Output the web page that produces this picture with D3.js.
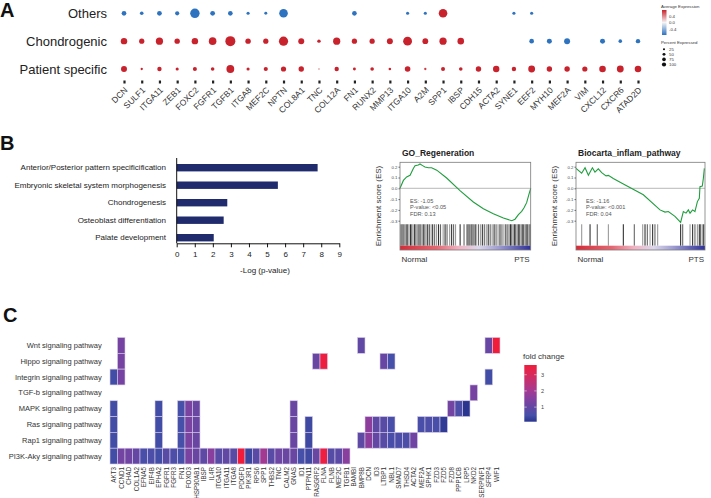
<!DOCTYPE html>
<html><head><meta charset="utf-8">
<script src="https://cdn.jsdelivr.net/npm/d3@7"></script>
<style>body{margin:0;background:#fff} svg{display:block;font-family:"Liberation Sans",Arial,sans-serif}</style>
</head><body><svg id="c" width="711" height="498"></svg>
<script>
// ---------- Panel A data ----------
const genesA = ["DCN","SULF1","ITGA11","ZEB1","FOXC2","FGFR1","TGFB1","ITGA8","MEF2C","NPTN","COL8A1","TNC","COL12A","FN1","RUNX2","MMP13","ITGA10","A2M","SPP1","IBSP","CDH15","ACTA2","SYNE1","EEF2","MYH10","MEF2A","VIM","CXCL12","CXCR6","ATAD2D"];
const groupsA = ["Others","Chondrogenic","Patient specific"];
const pctOthers = [20,12,21,16,82,21,20,9,8,68,null,null,null,20,null,null,9,9,68,null,null,null,9,9,null,null,null,null,null,null];
const avgOthers = [-0.5,-0.5,-0.5,-0.5,-0.5,-0.5,-0.5,-0.5,-0.5,-0.5,null,null,null,-0.5,null,null,-0.5,-0.5,0.5,null,null,null,-0.5,-0.5,null,null,null,null,null,null];
const pctChondro = [38,25,48,27,38,53,92,27,25,78,33,11,48,25,25,33,72,31,48,40,null,null,null,20,23,33,null,23,12,18];
const avgChondro = [0.5,0.5,0.5,0.5,0.5,0.5,0.5,0.5,0.5,0.5,0.5,0.45,0.5,0.5,0.5,0.5,0.5,0.5,0.5,0.5,null,null,null,-0.5,-0.5,-0.5,null,-0.5,-0.5,-0.5];
const pctPatient = [33,5,18,9,15,12,56,9,16,25,27,4,18,8,12,6,29,5,15,12,27,38,18,43,27,27,25,40,43,40];
const avgPatient = [0.5,0.4,0.5,0.5,0.5,0.5,0.5,0.5,0.5,0.5,0.5,0.12,0.5,0.5,0.5,0.4,0.5,0.35,0.5,0.5,0.5,0.5,0.5,0.5,0.5,0.5,0.5,0.5,0.5,0.5];
const legendPct = [25,50,75,100];
const legendAvg = ["0.4","0.0","-0.4"];

// ---------- Panel B data ----------
const termsB = ["Anterior/Posterior pattern specificification","Embryonic skeletal system morphogenesis","Chondrogenesis","Osteoblast differentiation","Palate development"];
const valsB = [7.8,5.6,2.8,2.6,2.05];
const ticksB = [0,1,2,3,4,5,6,7,8,9];

// ---------- GSEA data ----------
const goCurve = [[0,0],[0.026,0.073],[0.051,0.105],[0.077,0.12],[0.102,0.184],[0.115,0.21],[0.14,0.216],[0.153,0.225],[0.173,0.21],[0.191,0.197],[0.217,0.19],[0.242,0.19],[0.281,0.168],[0.357,0.095],[0.459,-0.022],[0.561,-0.127],[0.638,-0.19],[0.714,-0.235],[0.791,-0.276],[0.855,-0.30],[0.88,-0.286],[0.906,-0.244],[0.931,-0.213],[0.949,-0.18],[0.969,-0.133],[0.987,-0.054],[1,0]];
const goHits = [0.004,0.015,0.025,0.035,0.047,0.058,0.068,0.08,0.09,0.1,0.112,0.122,0.133,0.145,0.155,0.167,0.178,0.19,0.2,0.212,0.225,0.238,0.25,0.265,0.28,0.295,0.31,0.33,0.345,0.36,0.38,0.395,0.41,0.425,0.46,0.49,0.51,0.52,0.53,0.54,0.55,0.56,0.57,0.58,0.6,0.615,0.63,0.645,0.66,0.675,0.69,0.705,0.72,0.735,0.75,0.765,0.78,0.795,0.81,0.825,0.835,0.845,0.855,0.865,0.875,0.885,0.895,0.905,0.915,0.925,0.935,0.945,0.955,0.965,0.975,0.985,0.995];
const bioCurve = [[0,0.185],[0.044,0.14],[0.07,0.19],[0.096,0.12],[0.127,0.19],[0.147,0.15],[0.173,0.18],[0.199,0.145],[0.233,0.115],[0.251,0.12],[0.289,0.09],[0.367,0.04],[0.522,-0.06],[0.651,-0.2],[0.69,-0.22],[0.716,-0.215],[0.767,-0.26],[0.811,-0.315],[0.832,-0.215],[0.853,-0.23],[0.871,-0.2],[0.884,-0.23],[0.904,-0.2],[0.922,-0.215],[0.941,-0.123],[0.956,-0.092],[0.961,0.015],[0.979,0.02],[0.987,0.09],[0.995,0.185]];
const bioHits = [0.044,0.109,0.165,0.251,0.367,0.452,0.517,0.535,0.553,0.574,0.594,0.612,0.633,0.811,0.827,0.884,0.904,0.922,0.941,0.956,0.966,0.979,0.99];
const esTicks = [0.2,0.1,0.0,-0.1,-0.2,-0.3];

// ---------- Panel C data ----------
const pathways = ["Wnt signaling pathway","Hippo signaling pathway","Integrin signaling pathway","TGF-b signaling pathway","MAPK signaling pathway","Ras signaling pathway","Rap1 signaling pathway","PI3K-Aky signaling pathway"];
const genesC = ["AKT3","CCND1","CHAD","COL1A2","EFNA5","EIF4B","EPHA2","FGFR1","FGFR3","FN1","FOXO3","HSP90AB1","IBSP","IL4R","ITGA10","ITGA11","ITGA8","PDGFD","PIK3R1","RPS6","SPP1","THBS2","TNC","CALM2","GNAS","ID1","PTPN11","RASGRF2","FLNA","FLNB","MEF2C","TGFB1","BAMBI","BMP8B","DCN","ID3","LTBP1","NBL1","SMAD7","THSD4","ACTA2","MEF2A","SPHK1","FZD3","FZD5","FZD8","PPP1CB","LRP5","NKD2","SERPINF1","SFRP4","WIF1"];
const fcWnt = [["CCND1",1.3],["BMP8B",0.95],["SFRP4",1.05],["WIF1",3.6]];
const fcHippo = [["CCND1",1.3],["RASGRF2",1.1],["FLNA",3.5],["LTBP1",1.05],["NBL1",0.5]];
const fcIntegrin = [["AKT3",0.45],["CCND1",1.3],["SFRP4",0.45]];
const fcTGFb = [["NKD2",1.3]];
const fcMAPK = [["AKT3",0.45],["EPHA2",0.45],["FN1",0.5],["FOXO3",1.35],["HSP90AB1",1.1],["GNAS",1.1],["FZD8",1.25],["PPP1CB",0.6],["LRP5",0.12]];
const fcRas = [["AKT3",0.45],["EPHA2",0.45],["FN1",0.5],["FOXO3",1.35],["HSP90AB1",1.1],["GNAS",1.1],["PTPN11",0.4],["DCN",1.65],["ID3",0.9],["LTBP1",0.8],["NBL1",0.55],["MEF2A",0.55],["SPHK1",0.6],["FZD3",0.55],["FZD5",0.2]];
const fcRap1 = [["AKT3",0.45],["EPHA2",0.45],["FN1",0.5],["FOXO3",1.35],["HSP90AB1",1.1],["GNAS",1.1],["PTPN11",0.4],["BMP8B",0.9],["DCN",1.65],["ID3",1.0],["LTBP1",0.8],["NBL1",0.55],["SMAD7",0.6],["THSD4",0.6],["ACTA2",1.2]];
const fcPI3K = [["AKT3",0.45],["CCND1",1.25],["CHAD",1.2],["COL1A2",1.0],["EFNA5",0.55],["EIF4B",0.6],["EPHA2",0.45],["FGFR1",0.8],["FGFR3",0.6],["FN1",0.5],["FOXO3",1.35],["HSP90AB1",1.1],["IBSP",0.9],["IL4R",1.6],["ITGA10",0.8],["ITGA11",0.95],["ITGA8",0.8],["PDGFD",3.6],["PIK3R1",0.35],["RPS6",0.85],["SPP1",2.0],["THBS2",0.8],["TNC",1.15],["CALM2",1.1],["GNAS",1.1],["ID1",0.5],["PTPN11",0.4],["RASGRF2",1.1],["FLNA",3.5],["FLNB",0.75],["MEF2C",0.85],["TGFB1",1.6]];
const fcRows = [fcWnt,fcHippo,fcIntegrin,fcTGFb,fcMAPK,fcRas,fcRap1,fcPI3K];
const fcLegendTicks = [1,2,3];

// ================= drawing =================
const svg = d3.select("#c");
const defs = svg.append("defs");
const FONT = "'Liberation Sans',Arial,sans-serif";

// panel letters
[["A",0,17],["B",0,150],["C",3,322]].forEach(([t,x,y])=>svg.append("text").attr("x",x).attr("y",y).attr("font-size",20).attr("font-weight","bold").attr("fill","#111").text(t));

// ---------- Panel A ----------
const xA = d3.scalePoint().domain(genesA).range([124,638]);
const yA = d3.scalePoint().domain(groupsA).range([13.3,69]);
const rA = d3.scaleSqrt().domain([0,100]).range([0,5.2]);
const cA = d3.scaleLinear().domain([-0.4,0,0.4]).range(["#2e73bf","#f5f5f5","#c8222d"]).clamp(true);
const rowsA = [[groupsA[0],pctOthers,avgOthers],[groupsA[1],pctChondro,avgChondro],[groupsA[2],pctPatient,avgPatient]];
rowsA.forEach(([grp,pct,avg])=>{
  svg.append("g").selectAll("circle")
    .data(genesA.map((g,i)=>({g,p:pct[i],a:avg[i]})).filter(d=>d.p!=null))
    .join("circle").attr("cx",d=>xA(d.g)).attr("cy",yA(grp)).attr("r",d=>rA(d.p)).attr("fill",d=>cA(d.a));
  svg.append("text").attr("x",107).attr("y",yA(grp)).attr("text-anchor","end").attr("dominant-baseline","central")
    .attr("font-size",13).attr("fill","#222").text(grp);
});
const axA = svg.append("g").attr("transform","translate(0,80.5)").call(d3.axisBottom(xA).tickSize(3).tickSizeOuter(0));
axA.select(".domain").remove();
axA.selectAll(".tick line").attr("stroke","#222").attr("stroke-width",2.2);
axA.selectAll(".tick text").attr("y",0).attr("dy","0.35em").attr("text-anchor","end")
  .attr("transform","translate(1.5,8) rotate(-45)").attr("font-size",8.5).attr("fill","#333").attr("font-family",FONT);

// legend A
const gA = svg.append("g").attr("font-size",4.3).attr("fill","#333");
gA.append("text").attr("x",661).attr("y",7.5).text("Average Expression");
const gradA = defs.append("linearGradient").attr("id","gradA").attr("x1",0).attr("x2",0).attr("y1",0).attr("y2",1);
[[0,"#c8222d"],[0.5,"#f5f5f5"],[1,"#2e73bf"]].forEach(([o,c])=>gradA.append("stop").attr("offset",o).attr("stop-color",c));
gA.append("rect").attr("x",662).attr("y",10).attr("width",4.5).attr("height",25).attr("fill","url(#gradA)");
const yLegA = d3.scalePoint().domain(legendAvg).range([16,29.5]);
legendAvg.forEach(v=>gA.append("text").attr("x",669).attr("y",yLegA(v)).attr("dominant-baseline","central").text(v));
gA.append("text").attr("x",661).attr("y",44).text("Percent Expressed");
const yLegP = d3.scalePoint().domain(legendPct).range([49.3,64.5]);
const rLegP = d3.scaleSqrt().domain([0,100]).range([0,2.1]);
legendPct.forEach(v=>{
  gA.append("circle").attr("cx",664).attr("cy",yLegP(v)).attr("r",rLegP(v)).attr("fill","#111");
  gA.append("text").attr("x",669).attr("y",yLegP(v)).attr("dominant-baseline","central").text(v);
});

// ---------- Panel B ----------
const xB = d3.scaleLinear().domain([0,9]).range([176.7,339.3]);
const yB = d3.scalePoint().domain(termsB).range([167.7,237.7]);
svg.append("g").selectAll("rect").data(termsB).join("rect")
  .attr("x",xB(0)).attr("y",d=>yB(d)-3.7).attr("height",7.4)
  .attr("width",(d,i)=>xB(valsB[i])-xB(0)).attr("fill","#1f2b6c");
svg.append("line").attr("x1",xB(0)).attr("x2",xB(0)).attr("y1",158).attr("y2",243.3).attr("stroke","#111").attr("stroke-width",1);
const axB = svg.append("g").attr("transform","translate(0,243.3)")
  .call(d3.axisBottom(xB).tickValues(ticksB).tickFormat(d3.format("d")).tickSize(4).tickSizeOuter(0).tickPadding(4));
axB.select(".domain").attr("stroke","#111");
axB.selectAll(".tick line").attr("stroke","#111");
axB.selectAll("text").attr("font-size",8).attr("fill","#222").attr("font-family",FONT);
svg.append("text").attr("x",265).attr("y",273).attr("text-anchor","middle").attr("font-size",8).attr("fill","#222").text("-Log (p-value)");
termsB.forEach(t=>svg.append("text").attr("x",166).attr("y",yB(t)).attr("text-anchor","end").attr("dominant-baseline","central").attr("font-size",8).attr("fill","#222").text(t));

// ---------- GSEA ----------
const strip = defs.append("linearGradient").attr("id","strip");
[[0,"#d72a36"],[0.28,"#e46771"],[0.45,"#f0b3c2"],[0.6,"#dcd7ea"],[0.76,"#9c9ad0"],[1,"#2d2f9a"]].forEach(([o,c])=>strip.append("stop").attr("offset",o).attr("stop-color",c));
function gsea(x0,x1,title,curve,hits,stats){
  const g = svg.append("g");
  const x = d3.scaleLinear().domain([0,1]).range([x0,x1]);
  const y = d3.scaleLinear().domain([-0.3,0.2]).range([220.7,166.7]);
  const fmt = v=>d3.format(".1f")(v).replace("\u2212","-");
  g.append("text").attr("x",x0+2).attr("y",155.5).attr("font-size",8.5).attr("font-weight","bold").attr("fill","#222").text(title);
  g.append("line").attr("x1",x0).attr("x2",x1).attr("y1",y(0)).attr("y2",y(0)).attr("stroke","#9a9a9a").attr("stroke-width",0.7);
  g.append("g").selectAll("line").data(hits).join("line")
    .attr("x1",d=>x(d)).attr("x2",d=>x(d)).attr("y1",224.3).attr("y2",245.7)
    .attr("stroke",(d,i)=>i%3===0?"#9a9a9a":(i%3===1?"#333":"#666")).attr("stroke-width",1.1);
  g.append("rect").attr("x",x0).attr("y",245.7).attr("width",x1-x0).attr("height",4.3).attr("fill","url(#strip)");
  g.append("path").datum(curve).attr("fill","none").attr("stroke","#1f9e3d").attr("stroke-width",1.1)
    .attr("d",d3.line().x(d=>x(d[0])).y(d=>y(d[1])));
  g.append("rect").attr("x",x0).attr("y",162.3).attr("width",x1-x0).attr("height",250-162.3).attr("fill","none").attr("stroke","#7a7a7a").attr("stroke-width",0.8);
  const ay = g.append("g").attr("transform",`translate(${x0},0)`).call(d3.axisLeft(y).tickValues(esTicks).tickFormat(fmt).tickSize(1.5).tickPadding(1));
  ay.select(".domain").remove();
  ay.selectAll("line").attr("stroke","#666");
  ay.selectAll("text").attr("font-size",4.3).attr("fill","#444").attr("font-family",FONT);
  stats.forEach((s,i)=>g.append("text").attr("x",x0+10).attr("y",[203,208.8,216.3][i]).attr("font-size",5.6).attr("fill","#555").text(s));
  g.append("text").attr("transform",`translate(${x0-19},206) rotate(-90)`).attr("text-anchor","middle").attr("font-size",8).attr("fill","#333").text("Enrichment score (ES)");
  g.append("text").attr("x",x0+1.5).attr("y",262).attr("font-size",8).attr("fill","#333").text("Normal");
  g.append("text").attr("x",x1-1).attr("y",262).attr("text-anchor","end").attr("font-size",8).attr("fill","#333").text("PTS");
}
gsea(400,530.7,"GO_Regeneration",goCurve,goHits,["ES: -1.05","P-value: <0.05","FDR: 0.13"]);
gsea(576,705,"Biocarta_inflam_pathway",bioCurve,bioHits,["ES: -1.16","P-value: <0.001","FDR: 0.04"]);

// ---------- Panel C ----------
const xC = d3.scaleBand().domain(genesC).range([110,500]);
const yC = d3.scaleBand().domain(pathways).range([337.5,464]);
const fcStops = [0.1,0.5,1.0,1.5,2.0,3.0,3.6];
const cC = d3.scaleLinear().domain(fcStops).range(["#28348f","#4650a8","#6447a4","#8340a0","#a33a92","#d62a5c","#f11c3a"]).clamp(true);
const cells = [];
fcRows.forEach((row,i)=>row.forEach(([g,v])=>cells.push({p:pathways[i],g,v})));
svg.append("g").selectAll("rect").data(cells).join("rect")
  .attr("x",d=>xC(d.g)).attr("y",d=>yC(d.p)).attr("width",xC.bandwidth()).attr("height",yC.bandwidth())
  .attr("fill",d=>cC(d.v)).attr("stroke","#d6cce9").attr("stroke-width",0.6);
pathways.forEach(p=>svg.append("text").attr("x",101.7).attr("y",yC(p)+yC.bandwidth()/2).attr("text-anchor","end")
  .attr("dominant-baseline","central").attr("font-size",7.5).attr("fill","#333").text(p));
genesC.forEach(g=>svg.append("text").attr("transform",`translate(${xC(g)+xC.bandwidth()/2},467) rotate(-90)`)
  .attr("text-anchor","end").attr("dominant-baseline","central").attr("font-size",6.3).attr("fill","#333").text(g));
// legend C
svg.append("text").attr("x",523).attr("y",359).attr("font-size",8).attr("fill","#333").text("fold change");
const yLegC = d3.scaleLinear().domain([0.1,3.6]).range([421.7,365]);
const gradC = defs.append("linearGradient").attr("id","gradC").attr("x1",0).attr("x2",0).attr("y1",1).attr("y2",0);
fcStops.forEach(v=>gradC.append("stop").attr("offset",(v-0.1)/3.5).attr("stop-color",cC(v)));
svg.append("rect").attr("x",524.3).attr("y",365).attr("width",12.4).attr("height",56.7).attr("fill","url(#gradC)");
fcLegendTicks.forEach(v=>{
  svg.append("line").attr("x1",524.3).attr("x2",526.8).attr("y1",yLegC(v)).attr("y2",yLegC(v)).attr("stroke","#fff").attr("stroke-width",0.5);
  svg.append("line").attr("x1",534.2).attr("x2",536.7).attr("y1",yLegC(v)).attr("y2",yLegC(v)).attr("stroke","#fff").attr("stroke-width",0.5);
  svg.append("text").attr("x",541).attr("y",yLegC(v)).attr("dominant-baseline","central").attr("font-size",5.5).attr("fill","#444").text(v);
});
</script></body></html>
